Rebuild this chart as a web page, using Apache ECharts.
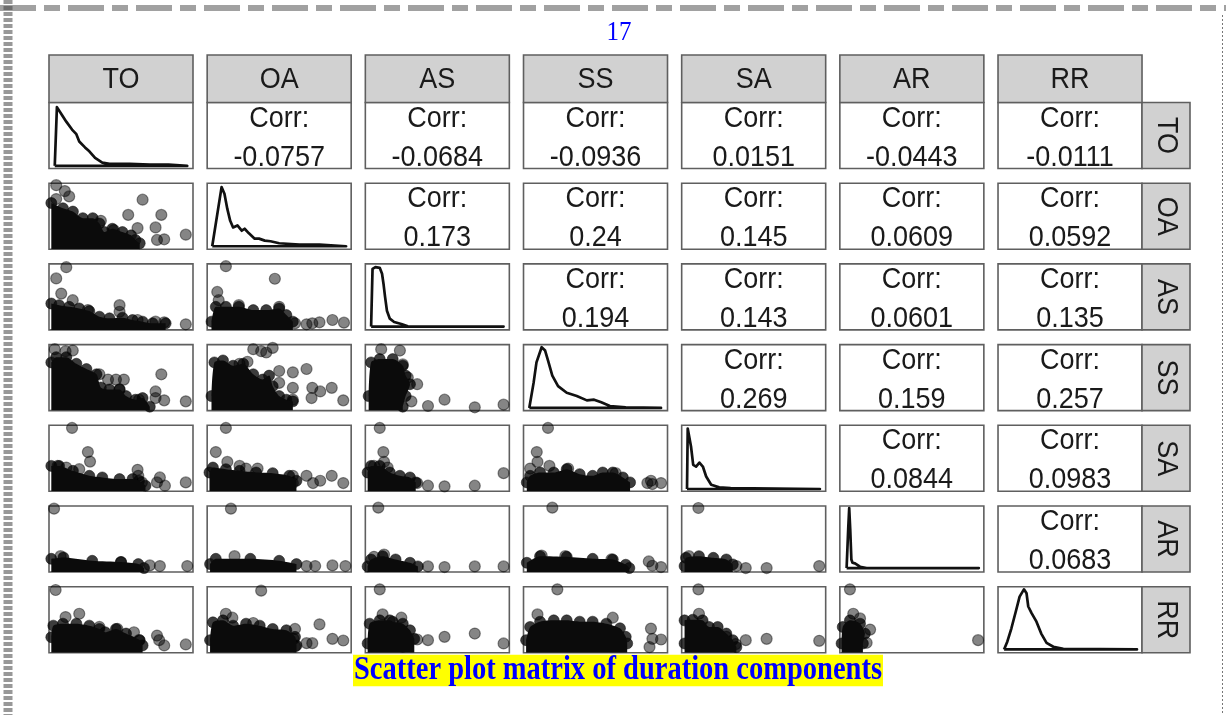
<!DOCTYPE html>
<html><head><meta charset="utf-8">
<script src="https://cdn.jsdelivr.net/npm/echarts@6/dist/echarts.min.js"></script>
<style>html,body{margin:0;padding:0;background:#fff}#c{width:1226px;height:715px}</style>
</head><body><div id="c"></div>
<script>
// ---------------- DATA (fractions of each panel: x from left, y from bottom) ----------------
const variables = ['TO','OA','AS','SS','SA','AR','RR'];
const pageNumber = '17';
const captionText = 'Scatter plot matrix of duration components';

// upper-triangle correlations, row by row
const corr_TO = ['-0.0757','-0.0684','-0.0936','0.0151','-0.0443','-0.0111'];
const corr_OA = ['0.173','0.24','0.145','0.0609','0.0592'];
const corr_AS = ['0.194','0.143','0.0601','0.135'];
const corr_SS = ['0.269','0.159','0.257'];
const corr_SA = ['0.0844','0.0983'];
const corr_AR = ['0.0683'];

// diagonal densities
const dens_TO = [[.04,.04],[.055,.93],[.09,.81],[.12,.71],[.16,.59],[.19,.52],[.21,.41],[.25,.32],[.28,.26],[.32,.16],[.37,.09],[.42,.07],[.56,.07],[.70,.06],[.83,.06],[.96,.04]];
const dens_OA = [[.035,.045],[.10,.94],[.12,.84],[.14,.61],[.16,.43],[.18,.33],[.21,.36],[.24,.28],[.26,.31],[.29,.24],[.33,.16],[.36,.16],[.40,.13],[.44,.12],[.50,.09],[.64,.07],[.78,.07],[.965,.045]];
const dens_AS = [[.04,.05],[.05,.925],[.07,.95],[.10,.94],[.116,.85],[.126,.70],[.137,.50],[.15,.29],[.17,.17],[.20,.12],[.25,.09],[.295,.055],[.42,.05],[.66,.05],[.96,.05]];
const dens_SS = [[.04,.04],[.07,.42],[.09,.73],[.126,.96],[.15,.91],[.17,.76],[.20,.53],[.24,.37],[.30,.27],[.37,.22],[.44,.155],[.49,.165],[.54,.125],[.60,.07],[.71,.05],[.955,.04]];
const dens_SA = [[.037,.035],[.042,.95],[.053,.925],[.065,.675],[.08,.40],[.10,.375],[.123,.435],[.147,.375],[.17,.225],[.205,.10],[.26,.06],[.34,.05],[.96,.035]];
const dens_AR = [[.047,.06],[.058,.65],[.065,.97],[.072,.65],[.08,.19],[.088,.14],[.105,.13],[.14,.08],[.186,.06],[.965,.06]];
const dens_RR = [[.042,.05],[.065,.17],[.093,.37],[.123,.62],[.15,.85],[.18,.96],[.198,.90],[.21,.70],[.233,.60],[.267,.47],[.30,.29],[.337,.15],[.384,.09],[.453,.06],[.965,.05]];

// lower panels: dense cloud top outline + individual points
const cloud_OA_TO = [[.016,.70],[.097,.62],[.166,.57],[.235,.47],[.304,.47],[.35,.39],[.385,.26],[.44,.31],[.51,.26],[.57,.21],[.60,.14],[.63,.09]];
const pts_OA_TO = [[.05,.97],[.11,.88],[.14,.80],[.05,.76],[.65,.75],[.55,.52],[.78,.52],[.36,.43],[.615,.32],[.74,.33],[.75,.14],[.80,.15],[.95,.22],[.45,.29]];

const cloud_AS_TO = [[.016,.40],[.07,.375],[.14,.35],[.21,.325],[.28,.285],[.35,.20],[.42,.175],[.51,.185],[.58,.15],[.65,.125],[.72,.10],[.81,.10]];
const pts_AS_TO = [[.12,.95],[.05,.78],[.085,.55],[.165,.45],[.27,.30],[.49,.375],[.49,.275],[.615,.15],[.74,.125],[.80,.115],[.95,.085]];
const cloud_AS_OA = [[.03,.125],[.06,.35],[.13,.35],[.22,.35],[.32,.30],[.41,.30],[.50,.325],[.55,.225],[.595,.125]];
const pts_AS_OA = [[.13,.965],[.47,.775],[.07,.575],[.08,.45],[.22,.375],[.50,.35],[.69,.085],[.73,.10],[.78,.115],[.87,.15],[.95,.11],[.61,.10]];

const cloud_SS_TO = [[.016,.73],[.05,.81],[.12,.81],[.19,.71],[.26,.63],[.33,.55],[.36,.35],[.42,.32],[.49,.32],[.535,.22],[.60,.165],[.65,.19],[.70,.06]];
const pts_SS_TO = [[.04,.93],[.115,.90],[.165,.91],[.35,.55],[.41,.47],[.465,.47],[.52,.47],[.49,.32],[.78,.55],[.74,.29],[.74,.19],[.80,.155],[.95,.14],[.625,.165]];
const cloud_SS_OA = [[.03,.22],[.05,.73],[.11,.76],[.18,.68],[.25,.71],[.32,.55],[.385,.47],[.43,.53],[.455,.37],[.50,.22],[.55,.165],[.595,.14]];
const pts_SS_OA = [[.32,.93],[.375,.90],[.455,.95],[.41,.88],[.28,.74],[.225,.71],[.50,.60],[.595,.58],[.69,.63],[.50,.42],[.595,.345],[.73,.345],[.785,.29],[.865,.345],[.725,.19],[.945,.155],[.595,.165]];
const cloud_SS_AS = [[.023,.22],[.04,.73],[.10,.78],[.19,.78],[.26,.68],[.28,.53],[.31,.40],[.28,.22],[.26,.06]];
const pts_SS_AS = [[.11,.93],[.24,.91],[.26,.70],[.295,.50],[.36,.40],[.32,.14],[.435,.07],[.55,.165],[.76,.05],[.96,.09]];

const cloud_SA_TO = [[.016,.385],[.07,.385],[.166,.31],[.28,.235],[.37,.21],[.49,.185],[.58,.185],[.625,.16],[.67,.085]];
const pts_SA_TO = [[.16,.96],[.27,.595],[.285,.45],[.06,.385],[.12,.36],[.21,.335],[.615,.325],[.62,.235],[.645,.135],[.77,.21],[.75,.135],[.805,.085],[.95,.135]];
const cloud_SA_OA = [[.016,.285],[.04,.36],[.13,.335],[.225,.31],[.34,.285],[.455,.275],[.57,.235],[.62,.16]];
const pts_SA_OA = [[.13,.96],[.06,.595],[.14,.445],[.225,.385],[.27,.345],[.35,.345],[.595,.235],[.595,.125],[.69,.235],[.785,.16],[.735,.125],[.865,.235],[.945,.125]];
const cloud_SA_AS = [[.016,.285],[.04,.385],[.10,.385],[.17,.285],[.24,.235],[.31,.21],[.35,.135]];
const pts_SA_AS = [[.10,.96],[.125,.595],[.13,.445],[.06,.385],[.155,.36],[.36,.125],[.435,.085],[.55,.075],[.76,.085],[.96,.275]];
const cloud_SA_SS = [[.023,.135],[.046,.235],[.115,.285],[.21,.285],[.30,.335],[.39,.26],[.48,.235],[.55,.285],[.62,.285],[.69,.21],[.74,.135]];
const pts_SA_SS = [[.17,.96],[.092,.595],[.097,.445],[.046,.345],[.18,.385],[.31,.345],[.64,.275],[.885,.16],[.895,.11],[.955,.125],[.86,.125]];

const cloud_AR_TO = [[.016,.20],[.10,.22],[.30,.17],[.50,.15],[.62,.12],[.66,.06]];
const pts_AR_TO = [[.035,.96],[.08,.24],[.50,.15],[.70,.10],[.77,.09],[.96,.09]];
const cloud_AR_OA = [[.02,.12],[.06,.20],[.30,.20],[.50,.17],[.62,.12]];
const pts_AR_OA = [[.165,.96],[.19,.24],[.69,.09],[.75,.09],[.87,.10],[.96,.09]];
const cloud_AR_AS = [[.016,.085],[.04,.19],[.12,.24],[.21,.19],[.31,.14],[.365,.085]];
const pts_AR_AS = [[.09,.975],[.435,.085],[.55,.075],[.76,.085],[.96,.085],[.06,.23],[.13,.265]];
const cloud_AR_SS = [[.023,.14],[.115,.24],[.30,.23],[.48,.20],[.62,.19],[.71,.11],[.735,.06]];
const pts_AR_SS = [[.20,.975],[.126,.25],[.29,.24],[.61,.19],[.87,.16],[.895,.095],[.955,.075]];
const cloud_AR_SA = [[.02,.09],[.03,.215],[.12,.24],[.22,.215],[.31,.19],[.355,.115]];
const pts_AR_SA = [[.116,.97],[.38,.09],[.445,.06],[.59,.06],[.955,.09],[.05,.24]];

const cloud_RR_TO = [[.016,.235],[.03,.41],[.097,.44],[.19,.44],[.28,.41],[.35,.36],[.39,.31],[.465,.36],[.535,.29],[.63,.19],[.65,.11]];
const pts_RR_TO = [[.046,.95],[.115,.54],[.21,.59],[.35,.39],[.475,.36],[.59,.31],[.625,.19],[.75,.26],[.765,.19],[.80,.11],[.95,.125]];
const cloud_RR_OA = [[.02,.19],[.04,.46],[.11,.49],[.18,.41],[.27,.44],[.365,.41],[.455,.36],[.55,.34],[.61,.24],[.62,.11]];
const pts_RR_OA = [[.375,.94],[.13,.59],[.175,.53],[.32,.45],[.61,.36],[.60,.21],[.61,.095],[.69,.145],[.73,.145],[.78,.43],[.87,.21],[.945,.185]];
const cloud_RR_AS = [[.016,.14],[.03,.44],[.10,.49],[.17,.49],[.19,.47],[.26,.44],[.31,.34],[.34,.21]];
const pts_RR_AS = [[.10,.96],[.12,.58],[.25,.53],[.36,.20],[.435,.19],[.55,.24],[.76,.29],[.96,.14],[.26,.09]];
const cloud_RR_SS = [[.018,.19],[.046,.39],[.115,.47],[.21,.49],[.30,.49],[.39,.47],[.48,.47],[.575,.44],[.67,.37],[.71,.24],[.72,.14]];
const pts_RR_SS = [[.235,.96],[.097,.58],[.62,.53],[.885,.365],[.895,.21],[.955,.20],[.875,.085]];
const cloud_RR_SA = [[.02,.14],[.02,.49],[.077,.50],[.145,.49],[.19,.39],[.25,.39],[.31,.29],[.355,.19],[.38,.085]];
const pts_RR_SA = [[.116,.96],[.12,.59],[.31,.24],[.375,.13],[.445,.19],[.59,.21],[.955,.18]];
const cloud_RR_AR = [[.012,.14],[.02,.39],[.07,.49],[.14,.44],[.174,.29],[.16,.14]];
const pts_RR_AR = [[.07,.96],[.093,.59],[.14,.52],[.21,.35],[.186,.15],[.96,.19]];

// ---------------- LAYOUT ----------------
const colLeft = j => 49 + 158.17 * j;
const rowTop = i => 102.5 + 80.7 * i;
const PW = 144, PH = 66;
const FONT = "'Liberation Sans', Arial, Helvetica, sans-serif";

const densities = [dens_TO, dens_OA, dens_AS, dens_SS, dens_SA, dens_AR, dens_RR];
const corrRows = [corr_TO, corr_OA, corr_AS, corr_SS, corr_SA, corr_AR];
const lowerPanels = [
  [1,0,cloud_OA_TO,pts_OA_TO],
  [2,0,cloud_AS_TO,pts_AS_TO],[2,1,cloud_AS_OA,pts_AS_OA],
  [3,0,cloud_SS_TO,pts_SS_TO],[3,1,cloud_SS_OA,pts_SS_OA],[3,2,cloud_SS_AS,pts_SS_AS],
  [4,0,cloud_SA_TO,pts_SA_TO],[4,1,cloud_SA_OA,pts_SA_OA],[4,2,cloud_SA_AS,pts_SA_AS],[4,3,cloud_SA_SS,pts_SA_SS],
  [5,0,cloud_AR_TO,pts_AR_TO],[5,1,cloud_AR_OA,pts_AR_OA],[5,2,cloud_AR_AS,pts_AR_AS],[5,3,cloud_AR_SS,pts_AR_SS],[5,4,cloud_AR_SA,pts_AR_SA],
  [6,0,cloud_RR_TO,pts_RR_TO],[6,1,cloud_RR_OA,pts_RR_OA],[6,2,cloud_RR_AS,pts_RR_AS],[6,3,cloud_RR_SS,pts_RR_SS],[6,4,cloud_RR_SA,pts_RR_SA],[6,5,cloud_RR_AR,pts_RR_AR]
];

const grid = [], xAxis = [], yAxis = [], series = [], graphic = [];
const borderCol = '#5f5f5f';
function addGrid(i, j) {
  const idx = grid.length;
  grid.push({left: colLeft(j), top: rowTop(i), width: PW, height: PH, show: true,
    backgroundColor: '#fff', borderColor: borderCol, borderWidth: 1.6});
  xAxis.push({type: 'value', gridIndex: idx, min: 0, max: 1, show: false});
  yAxis.push({type: 'value', gridIndex: idx, min: 0, max: 1, show: false});
  return idx;
}
const ptStyle = {color: 'rgba(0,0,0,0.6)', borderColor: 'rgba(0,0,0,0.55)', borderWidth: 1.2};
const SYM = 11;

// diagonal
densities.forEach((d, i) => {
  const g = addGrid(i, i);
  const closed = d.concat([[d[0][0], d[d.length - 1][1]]]);
  series.push({type: 'line', xAxisIndex: g, yAxisIndex: g, data: closed, symbol: 'none',
    lineStyle: {color: '#111', width: 2.7, join: 'round'}, silent: true});
});
// lower
lowerPanels.forEach(([i, j, cloud, pts]) => {
  const g = addGrid(i, j);
  series.push({type: 'line', xAxisIndex: g, yAxisIndex: g, data: cloud, symbol: 'none', smooth: 0.25,
    lineStyle: {width: 0}, areaStyle: {color: '#0b0b0b', opacity: 1}, silent: true});
  series.push({type: 'scatter', xAxisIndex: g, yAxisIndex: g, data: cloud, symbolSize: SYM,
    itemStyle: {color: '#0b0b0b', borderColor: 'rgba(0,0,0,0.6)', borderWidth: 1}, silent: true});
  series.push({type: 'scatter', xAxisIndex: g, yAxisIndex: g, data: pts, symbolSize: SYM,
    itemStyle: ptStyle, silent: true});
});

// upper: correlation boxes
corrRows.forEach((row, i) => {
  row.forEach((v, k) => {
    const j = i + 1 + k;
    const x = colLeft(j), y = rowTop(i);
    graphic.push({type: 'rect', shape: {x: x, y: y, width: PW, height: PH},
      style: {fill: '#fff', stroke: borderCol, lineWidth: 1.6}, z: 1});
    graphic.push({type: 'text', x: x + PW / 2, y: y + 16, scaleY: 1.08, z: 2,
      style: {text: 'Corr:', font: '27px ' + FONT, fill: '#1a1a1a', align: 'center', verticalAlign: 'middle'}});
    graphic.push({type: 'text', x: x + PW / 2, y: y + 55, scaleY: 1.08, z: 2,
      style: {text: v, font: '27px ' + FONT, fill: '#1a1a1a', align: 'center', verticalAlign: 'middle'}});
  });
});

// strips
variables.forEach((v, k) => {
  const x = colLeft(k);
  graphic.push({type: 'rect', shape: {x: x, y: 55, width: PW, height: 47.5},
    style: {fill: '#d1d1d1', stroke: borderCol, lineWidth: 1.6}, z: 1});
  graphic.push({type: 'text', x: x + PW / 2, y: 80, scaleY: 1.12, z: 2,
    style: {text: v, font: '27px ' + FONT, fill: '#1a1a1a', align: 'center', verticalAlign: 'middle'}});
  const y = rowTop(k);
  graphic.push({type: 'rect', shape: {x: 1142, y: y, width: 48, height: PH},
    style: {fill: '#d1d1d1', stroke: borderCol, lineWidth: 1.6}, z: 1});
  graphic.push({type: 'text', x: 1166, y: y + PH / 2, rotation: -Math.PI / 2, scaleY: 1.1, z: 2,
    style: {text: v, font: '27px ' + FONT, fill: '#1a1a1a', align: 'center', verticalAlign: 'middle'}});
});

// page decorations
graphic.push({type: 'line', shape: {x1: 0, y1: 8, x2: 1226, y2: 8},
  style: {stroke: '#444', lineWidth: 6, lineDash: [36, 8, 16, 8], opacity: 0.5}, z: 3});
graphic.push({type: 'line', shape: {x1: 8, y1: 0, x2: 8, y2: 715},
  style: {stroke: '#444', lineWidth: 9, lineDash: [4, 2], opacity: 0.55}, z: 3});
graphic.push({type: 'line', shape: {x1: 1222.5, y1: 15, x2: 1222.5, y2: 715},
  style: {stroke: '#777', lineWidth: 1, lineDash: [2, 2]}, z: 3});
graphic.push({type: 'text', x: 619, y: 33, scaleY: 1.1, z: 3,
  style: {text: pageNumber, font: "25px 'Liberation Serif', 'Times New Roman', serif", fill: '#0000ff', align: 'center', verticalAlign: 'middle'}});
graphic.push({type: 'text', x: 618, y: 670.5, scaleY: 1.18, z: 3,
  style: {text: captionText, font: "bold 28.5px 'Liberation Serif', 'Times New Roman', serif", fill: '#0000ff',
    align: 'center', verticalAlign: 'middle', backgroundColor: '#ffff00', lineHeight: 26.5, padding: [0, 1]}});

const chart = echarts.init(document.getElementById('c'), null, {renderer: 'canvas'});
chart.setOption({animation: false, backgroundColor: '#fff', grid, xAxis, yAxis, series, graphic});
</script></body></html>
